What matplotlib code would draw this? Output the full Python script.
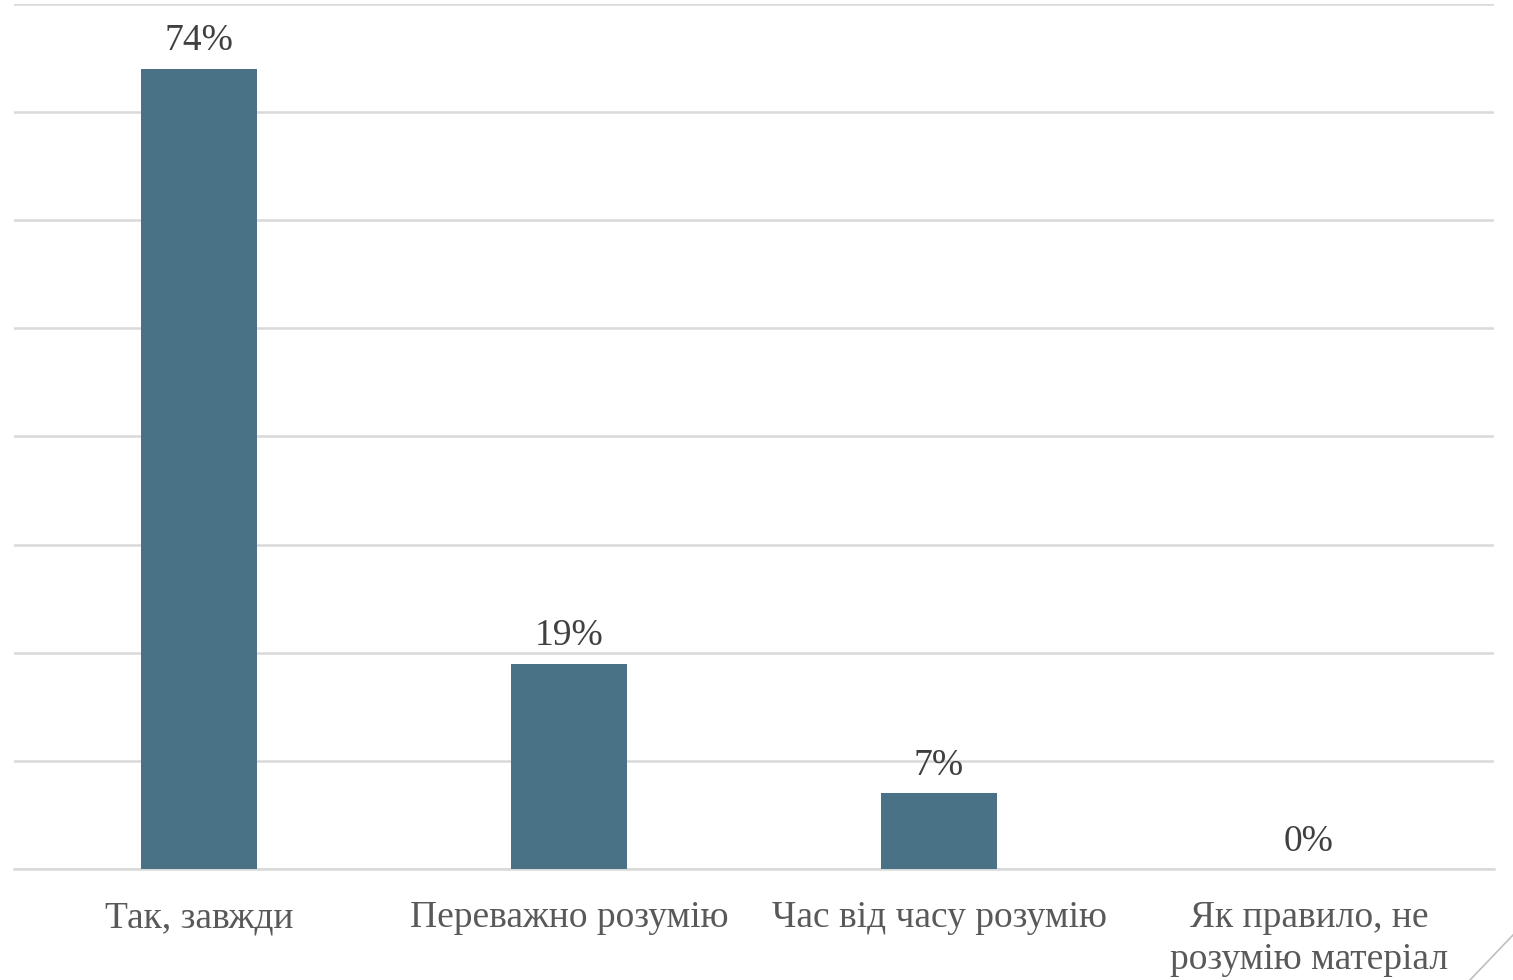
import matplotlib
matplotlib.use("Agg")
import matplotlib.pyplot as plt
from matplotlib.lines import Line2D

categories = ["Так, завжди", "Переважно розумію", "Час від часу розумію", "Як правило, не\nрозумію матеріал"]
values = [74, 19, 7, 0]
value_labels = ["74%", "19%", "7%", "0%"]

plt.rcParams['font.family'] = ['Liberation Serif', 'DejaVu Serif']

fig = plt.figure(figsize=(15.13, 9.8), dpi=100)
ax = fig.add_axes([14/1513, 1 - 869/980, 1480/1513, 865/980])

x = list(range(len(categories)))
ax.bar(x, values, width=0.314, color="#4A7286", zorder=3)
ax.set_xlim(-0.5, 3.5)
ax.set_ylim(0, 80)
ax.set_yticks(range(0, 81, 10))
ax.yaxis.grid(True, color="#D9D9D9", linewidth=1.8, zorder=0)
ax.tick_params(axis='y', left=False, labelleft=False)
ax.tick_params(axis='x', length=0, pad=23, labelsize=27, labelcolor="#595959")
ax.set_xticks(x)
ax.set_xticklabels(categories, linespacing=1.25, va='top')
for s in ["top", "right", "left"]:
    ax.spines[s].set_visible(False)
ax.spines["bottom"].set_color("#D9D9D9")
ax.spines["bottom"].set_linewidth(1.8)

for xi, v, lab in zip(x, values, value_labels):
    ax.annotate(lab, (xi, v), xytext=(0, 7.5), textcoords="offset points",
                ha="center", va="bottom", fontsize=27, color="#404040")

fig.add_artist(Line2D([1470/1513, 1513/1513], [0, 45/980], transform=fig.transFigure,
                      color="#BFBFBF", linewidth=1.2))

fig.savefig("out.png", dpi=100, facecolor="white")
